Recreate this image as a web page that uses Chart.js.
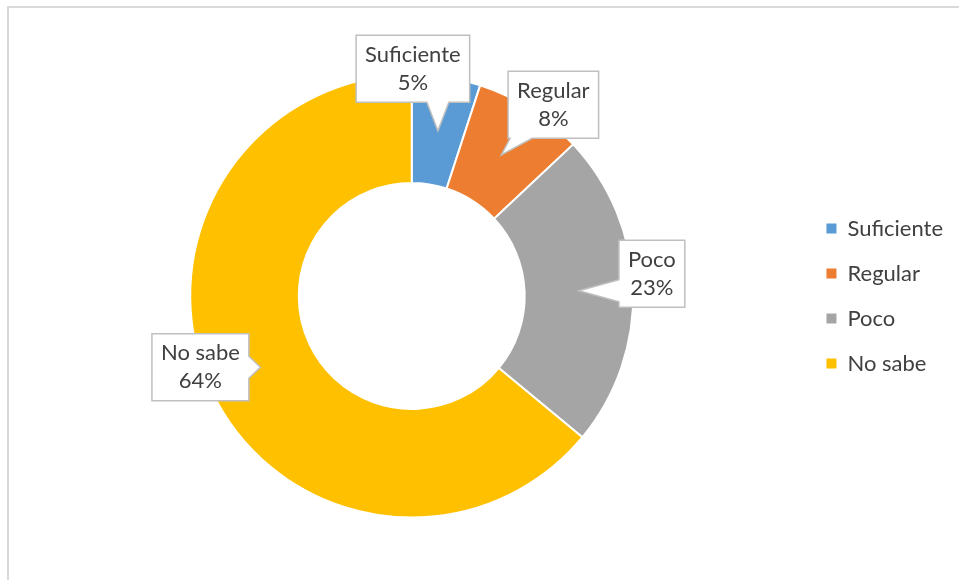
<!DOCTYPE html>
<html>
<head>
<meta charset="utf-8">
<script src="https://cdn.jsdelivr.net/npm/chart.js@4.4.1/dist/chart.umd.min.js"></script>
<style>
  body { margin: 0; background: #fff; }
  #wrap { width: 959px; height: 580px; position: relative; }
</style>
</head>
<body>
<div id="wrap"><canvas id="myChart"></canvas></div>
<script>
const categories = ['Suficiente', 'Regular', 'Poco', 'No sabe'];
const shares = [5, 8, 23, 64];
const sliceColors = ['#5B9BD5', '#ED7D31', '#A5A5A5', '#FFC000'];
// callout box centre, relative to the middle of each slice
const calloutOffsets = [[-25, -62], [52, -50], [73, -17], [-60, 0]];

const FONT = 'Lato, "Liberation Sans", sans-serif';
const TEXT = '#404040';

// thin grey frame round the chart
const framePlugin = {
  id: 'frame',
  beforeDraw(chart) {
    const c = chart.ctx;
    c.save();
    c.strokeStyle = '#d9d9d9';
    c.lineWidth = 2;
    c.beginPath();
    c.moveTo(8, chart.height);
    c.lineTo(8, 7);
    c.lineTo(chart.width, 7);
    c.stroke();
    c.restore();
  }
};

function calloutPath(c, l, t, r, b, tip) {
  const hw = 11;
  let side;
  if (tip.y > b) side = 'bottom';
  else if (tip.y < t) side = 'top';
  else if (tip.x < l) side = 'left';
  else side = 'right';
  const bx = Math.min(Math.max(tip.x, l + hw + 2), r - hw - 2);
  const by = Math.min(Math.max(tip.y, t + hw + 2), b - hw - 2);
  c.beginPath();
  c.moveTo(l, t);
  if (side === 'top') { c.lineTo(bx - hw, t); c.lineTo(tip.x, tip.y); c.lineTo(bx + hw, t); }
  c.lineTo(r, t);
  if (side === 'right') { c.lineTo(r, by - hw); c.lineTo(tip.x, tip.y); c.lineTo(r, by + hw); }
  c.lineTo(r, b);
  if (side === 'bottom') { c.lineTo(bx + hw, b); c.lineTo(tip.x, tip.y); c.lineTo(bx - hw, b); }
  c.lineTo(l, b);
  if (side === 'left') { c.lineTo(l, by + hw); c.lineTo(tip.x, tip.y); c.lineTo(l, by - hw); }
  c.closePath();
}

// speech-bubble labels with category name and percentage
const calloutPlugin = {
  id: 'callouts',
  afterDatasetsDraw(chart) {
    const c = chart.ctx;
    const meta = chart.getDatasetMeta(0);
    c.save();
    c.font = '22px ' + FONT;
    c.textAlign = 'center';
    c.textBaseline = 'middle';
    meta.data.forEach((arc, i) => {
      const tip = arc.tooltipPosition();
      const lines = [categories[i], shares[i] + '%'];
      const w = Math.max(...lines.map(t => c.measureText(t).width)) + 18;
      const h = 67;
      const cx = tip.x + calloutOffsets[i][0];
      const cy = tip.y + calloutOffsets[i][1];
      calloutPath(c, cx - w / 2, cy - h / 2, cx + w / 2, cy + h / 2, tip);
      c.fillStyle = '#fff';
      c.fill();
      c.strokeStyle = '#bfbfbf';
      c.lineWidth = 1.5;
      c.stroke();
      c.fillStyle = TEXT;
      c.fillText(lines[0], cx, cy - 14);
      c.fillText(lines[1], cx, cy + 14);
    });
    c.restore();
  }
};

const ctx = document.getElementById('myChart');

const chart = new Chart(ctx, {
  type: 'doughnut',
  data: {
    labels: categories,
    datasets: [{
      data: shares,
      backgroundColor: sliceColors,
      borderColor: '#fff',
      borderWidth: 2
    }]
  },
  options: {
    responsive: true,
    maintainAspectRatio: false,
    animation: false,
    cutout: '51%',
    layout: { padding: { left: 20, right: 6, top: 73.5, bottom: 61.5 } },
    plugins: {
      tooltip: { enabled: false },
      legend: {
        position: 'right',
        labels: {
          boxWidth: 10,
          boxHeight: 10,
          padding: 23,
          color: TEXT,
          font: { family: FONT, size: 22 },
          generateLabels(chart) {
            return Chart.overrides.doughnut.plugins.legend.labels.generateLabels(chart)
              .map(item => ({ ...item, strokeStyle: item.fillStyle, lineWidth: 0 }));
          }
        }
      }
    }
  },
  plugins: [framePlugin, calloutPlugin]
});
</script>
</body>
</html>
